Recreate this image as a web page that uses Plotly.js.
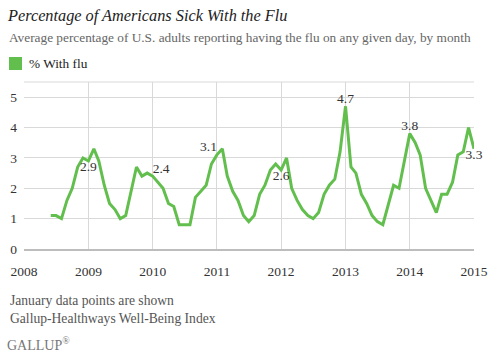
<!DOCTYPE html>
<html><head><meta charset="utf-8">
<script src="https://cdn.plot.ly/plotly-3.0.1.min.js"></script>
<style>html,body{margin:0;padding:0;background:#fff;}#chart{width:496px;height:359px;}</style>
</head><body><div id="chart"></div>
<script>
// Monthly series, June 2008 through January 2015
var startYear = 2008, startMonth = 6;
var flu2008 = [1.1, 1.1, 1.0, 1.6, 2.0, 2.7, 3.0];            // Jun-Dec
var flu2009 = [2.9, 3.3, 2.9, 2.1, 1.5, 1.3, 1.0, 1.1, 1.9, 2.7, 2.4, 2.5];
var flu2010 = [2.4, 2.2, 2.0, 1.5, 1.4, 0.8, 0.8, 0.8, 1.7, 1.9, 2.1, 2.8];
var flu2011 = [3.1, 3.3, 2.4, 1.9, 1.6, 1.1, 0.9, 1.1, 1.8, 2.1, 2.6, 2.8];
var flu2012 = [2.6, 3.0, 2.0, 1.6, 1.3, 1.1, 1.0, 1.2, 1.8, 2.1, 2.3, 3.2];
var flu2013 = [4.7, 2.7, 2.5, 1.8, 1.5, 1.1, 0.9, 0.8, 1.5, 2.1, 2.0, 2.9];
var flu2014 = [3.8, 3.5, 3.1, 2.0, 1.6, 1.2, 1.8, 1.8, 2.2, 3.1, 3.2, 4.0];
var flu2015 = [3.3];
var labelledDates = ['2009-01', '2010-01', '2011-01', '2012-01', '2013-01', '2014-01', '2015-01'];
var labelPositions = ['bottom center', 'top right', 'top left', 'bottom center', 'top center', 'top center', 'bottom center'];
var tickYears = ['2008', '2009', '2010', '2011', '2012', '2013', '2014', '2015'];

var values = [].concat(flu2008, flu2009, flu2010, flu2011, flu2012, flu2013, flu2014, flu2015);
var dates = [], texts = [], positions = [];
for (var i = 0; i < values.length; i++) {
  var m = startMonth - 1 + i;
  var y = startYear + Math.floor(m / 12);
  var mm = (m % 12) + 1;
  var d = y + '-' + (mm < 10 ? '0' + mm : mm);
  dates.push(d + '-01');
  var k = labelledDates.indexOf(d);
  texts.push(k >= 0 ? values[i].toFixed(1) : '');
  positions.push(k >= 0 ? labelPositions[k] : 'top center');
}

var green = '#62bf4e';
var serif = 'Liberation Serif, Georgia, serif';

var trace = {
  x: dates, y: values, type: 'scatter', mode: 'lines+text',
  name: '% With flu',
  line: {color: green, width: 3},
  text: texts, textposition: positions,
  textfont: {family: serif, size: 13.5, color: '#333'},
  hoverinfo: 'x+y', showlegend: false, cliponaxis: false
};

var layout = {
  width: 496, height: 359,
  margin: {l: 24, r: 22, t: 82, b: 110},
  paper_bgcolor: '#fff', plot_bgcolor: '#fff',
  font: {family: serif, color: '#333'},
  title: {text: '<i>Percentage of Americans Sick With the Flu</i>', font: {family: serif, size: 16.3, color: '#222'},
          x: 8/496, xref: 'container', xanchor: 'left', y: 1 - 15/359, yref: 'container', yanchor: 'middle'},
  xaxis: {type: 'date', range: [tickYears[0] + '-01-01', tickYears[tickYears.length - 1] + '-01-01'],
          tickvals: tickYears.map(function (t) { return t + '-01-01'; }), ticktext: tickYears,
          showgrid: true, gridcolor: '#d9d9d9', gridwidth: 1, zeroline: false,
          showline: true, linecolor: '#bdbdbd', linewidth: 2,
          ticks: '', ticklabelstandoff: 9, tickfont: {family: serif, size: 13.5, color: '#333'}, fixedrange: true},
  yaxis: {range: [0, 5.5], tickvals: [0, 1, 2, 3, 4, 5], showgrid: true, gridcolor: '#d9d9d9', gridwidth: 1,
          zeroline: false, showline: false, ticks: '', ticklabelstandoff: 6,
          tickfont: {family: serif, size: 13.5, color: '#333'}, fixedrange: true},
  shapes: [
    {type: 'line', xref: 'paper', yref: 'paper', x0: 0, x1: 1, y0: 1, y1: 1, line: {color: '#d9d9d9', width: 1}},
    {type: 'rect', xref: 'paper', yref: 'paper', x0: -15/450, x1: -2/450, y0: (249 - 57)/167, y1: (249 - 70)/167,
     fillcolor: green, line: {width: 0}}
  ],
  annotations: [
    {text: 'Average percentage of U.S. adults reporting having the flu on any given day, by month',
     xref: 'paper', yref: 'paper', x: -17/450, y: (249 - 37)/167, xanchor: 'left', yanchor: 'middle', showarrow: false,
     font: {family: serif, size: 13.3, color: '#666'}},
    {text: '% With flu', xref: 'paper', yref: 'paper', x: 3/450, y: (249 - 63)/167, xanchor: 'left', yanchor: 'middle',
     showarrow: false, font: {family: serif, size: 13.3, color: '#222'}},
    {text: 'January data points are shown', xref: 'paper', yref: 'paper', x: -16/450, y: (249 - 300)/167,
     xanchor: 'left', yanchor: 'middle', showarrow: false, font: {family: serif, size: 13.6, color: '#555'}},
    {text: 'Gallup-Healthways Well-Being Index', xref: 'paper', yref: 'paper', x: -16/450, y: (249 - 318)/167,
     xanchor: 'left', yanchor: 'middle', showarrow: false, font: {family: serif, size: 13.6, color: '#555'}},
    {text: 'GALLUP<sup>®</sup>', xref: 'paper', yref: 'paper', x: -19/450, y: (249 - 344)/167,
     xanchor: 'left', yanchor: 'middle', showarrow: false, font: {family: serif, size: 14, color: '#777'}}
  ]
};

Plotly.newPlot('chart', [trace], layout, {displayModeBar: false, staticPlot: true});
</script></body></html>
